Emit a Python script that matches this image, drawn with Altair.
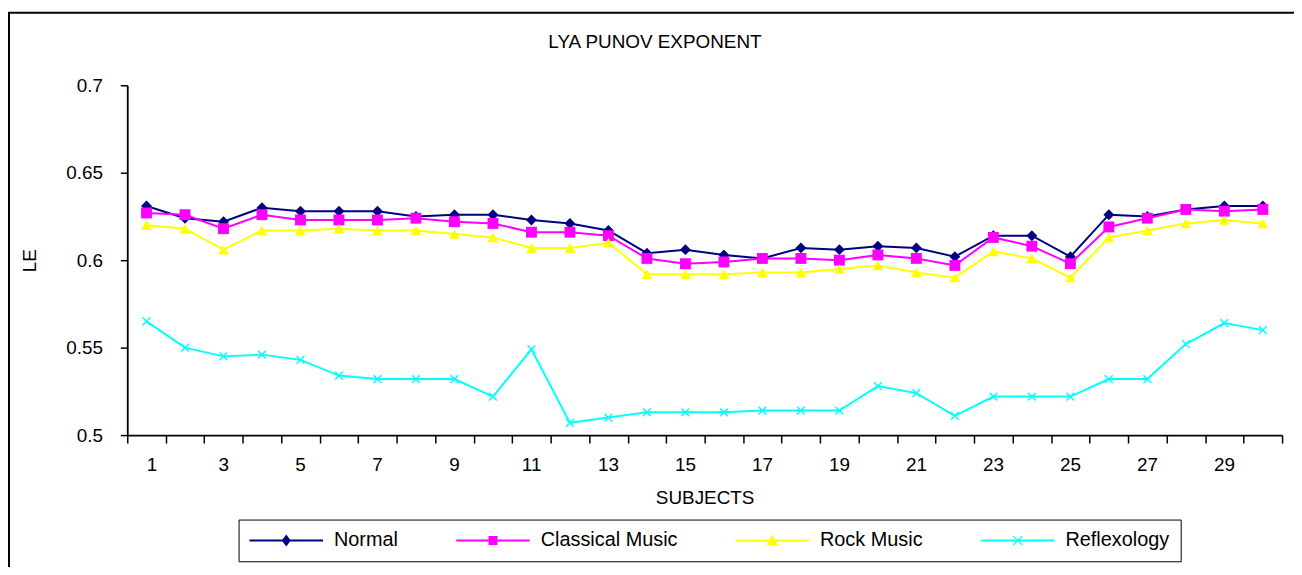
import altair as alt
import pandas as pd

subjects = list(range(1, 31))
normal = [0.631, 0.624, 0.622, 0.630, 0.628, 0.628, 0.628, 0.625, 0.626, 0.626,
          0.623, 0.621, 0.617, 0.604, 0.606, 0.603, 0.601, 0.607, 0.606, 0.608,
          0.607, 0.602, 0.614, 0.614, 0.602, 0.626, 0.625, 0.629, 0.631, 0.631]
classical = [0.627, 0.626, 0.618, 0.626, 0.623, 0.623, 0.623, 0.624, 0.622, 0.621,
             0.616, 0.616, 0.614, 0.601, 0.598, 0.599, 0.601, 0.601, 0.600, 0.603,
             0.601, 0.597, 0.613, 0.608, 0.598, 0.619, 0.624, 0.629, 0.628, 0.629]
rock = [0.620, 0.618, 0.606, 0.617, 0.617, 0.618, 0.617, 0.617, 0.615, 0.613,
        0.607, 0.607, 0.610, 0.592, 0.592, 0.592, 0.593, 0.593, 0.595, 0.597,
        0.593, 0.590, 0.605, 0.601, 0.590, 0.613, 0.617, 0.621, 0.623, 0.621]
reflexology = [0.565, 0.550, 0.545, 0.546, 0.543, 0.534, 0.532, 0.532, 0.532, 0.522,
               0.549, 0.507, 0.510, 0.513, 0.513, 0.513, 0.514, 0.514, 0.514, 0.528,
               0.524, 0.511, 0.522, 0.522, 0.522, 0.532, 0.532, 0.552, 0.564, 0.560]

series_names = ["Normal", "Classical Music", "Rock Music", "Reflexology"]
colors = ["#000080", "#FF00FF", "#FFFF00", "#00FFFF"]
y_ticks = [0.5, 0.55, 0.6, 0.65, 0.7]

FONT = "Liberation Sans"

rows = []
for name, vals in zip(series_names, [normal, classical, rock, reflexology]):
    for s, v in zip(subjects, vals):
        rows.append({"subject": s, "value": v, "series": name})
df = pd.DataFrame(rows)

x_enc = alt.X(
    "subject:Q",
    scale=alt.Scale(domain=[0.5, 30.5], nice=False, zero=False),
    axis=alt.Axis(
        values=[i + 0.5 for i in range(0, 31)],
        labelExpr="((datum.value + 0.5) % 2 == 1) && (datum.value < 30) ? format(datum.value + 0.5, 'd') : ''",
        labelOffset=19,
        grid=False,
        tickSize=8,
        tickColor="black",
        domainColor="black",
        domainWidth=1.8,
        tickWidth=1.5,
        labelFont=FONT,
        labelFontSize=19,
        labelColor="black",
        labelPadding=13,
        title="SUBJECTS",
        titleFont=FONT,
        titleFontSize=19,
        titleFontWeight="normal",
        titleColor="black",
        titlePadding=14,
    ),
)
y_enc = alt.Y(
    "value:Q",
    scale=alt.Scale(domain=[0.5, 0.7], nice=False, zero=False),
    axis=alt.Axis(
        values=y_ticks,
        format="",
        grid=False,
        tickSize=7,
        tickColor="black",
        domainColor="black",
        domainWidth=1.8,
        tickWidth=1.5,
        labelFont=FONT,
        labelFontSize=19,
        labelColor="black",
        labelPadding=18,
        title="LE",
        titleFont=FONT,
        titleFontSize=19,
        titleFontWeight="normal",
        titleColor="black",
        titleX=-88,
        titleY=176,
    ),
)

color_scale = alt.Scale(domain=series_names, range=colors)

base = alt.Chart(df)

lines = base.mark_line(strokeWidth=2).encode(
    x=x_enc,
    y=y_enc,
    color=alt.Color("series:N", scale=color_scale, legend=None),
)

filled_points = base.transform_filter(
    alt.datum.series != "Reflexology"
).mark_point(filled=True, opacity=1, size=120).encode(
    x=x_enc,
    y=y_enc,
    color=alt.Color("series:N", scale=color_scale, legend=None),
    shape=alt.Shape(
        "series:N",
        scale=alt.Scale(domain=series_names[:3], range=["diamond", "square", "triangle-up"]),
        legend=None,
    ),
)

x_points = base.transform_filter(
    alt.datum.series == "Reflexology"
).mark_point(
    filled=False, shape="M-1,-1L1,1M1,-1L-1,1", size=60, strokeWidth=1.5, opacity=1
).encode(
    x=x_enc,
    y=y_enc,
    color=alt.value("#00FFFF"),
)

legend_paths = [
    "M-3.7,-0.1H3.7V0.1H-3.7Z M0,-0.6L0.45,0L0,0.6L-0.45,0Z",
    "M-3.7,-0.1H3.7V0.1H-3.7Z M-0.45,-0.45H0.45V0.45H-0.45Z",
    "M-3.7,-0.1H3.7V0.1H-3.7Z M0,-0.6L0.6,0.45L-0.6,0.45Z",
    "M-3.7,-0.1H3.7V0.1H-3.7Z M-0.5,-0.42L-0.42,-0.5L0.5,0.42L0.42,0.5Z M0.42,-0.5L0.5,-0.42L-0.42,0.5L-0.5,0.42Z",
]

leg = alt.Legend(
    title=None,
    orient="none",
    legendX=112,
    legendY=437,
    direction="horizontal",
    strokeColor="black",
    fillColor="white",
    padding=11,
    symbolSize=400,
    symbolStrokeWidth=0,
    symbolOffset=27,
    labelOffset=38,
    labelFont=FONT,
    labelFontSize=20,
    labelColor="black",
    columnPadding=58,
)

legend_layer = alt.Chart(pd.DataFrame({"series": series_names})).transform_filter(
    "false"
).mark_point(filled=True, size=400, opacity=1, strokeWidth=0).encode(
    color=alt.Color("series:N", scale=alt.Scale(domain=series_names, range=colors), legend=leg),
    shape=alt.Shape("series:N", scale=alt.Scale(domain=series_names, range=legend_paths), legend=leg),
)

frame = alt.Chart(pd.DataFrame({"a": [0]})).mark_rect(
    fill=None, stroke="black", strokeWidth=2
).encode(
    x=alt.value(-119), x2=alt.value(1185), y=alt.value(-73), y2=alt.value(495)
)

chart = alt.layer(frame, lines, filled_points, x_points, legend_layer).resolve_scale(
    color="independent", shape="independent"
).properties(
    width=1162,
    height=352,
    autosize=alt.AutoSizeParams(type="none"),
    padding={"left": 120, "top": 76, "right": 12, "bottom": 131},
    title=alt.TitleParams(
        "LYA PUNOV EXPONENT",
        font=FONT,
        fontSize=19,
        fontWeight="normal",
        color="black",
        anchor="middle",
        dx=-50,
        offset=-41,
    ),
    background="white",
).configure_view(stroke=None)

chart.save("out.html", embed_options={"renderer": "svg", "actions": False})
